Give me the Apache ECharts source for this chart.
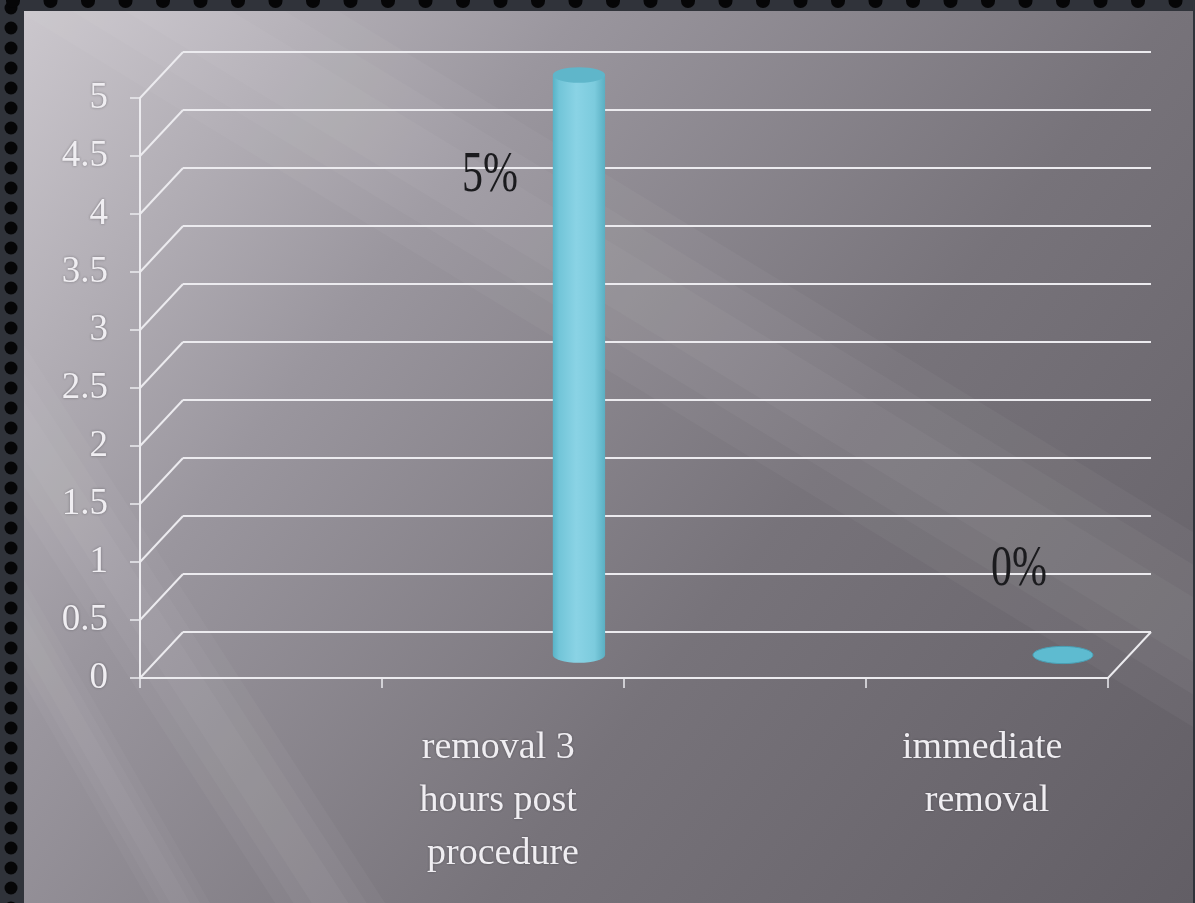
<!DOCTYPE html>
<html>
<head>
<meta charset="utf-8">
<script src="https://cdn.jsdelivr.net/npm/echarts@6/dist/echarts.min.js"></script>
<style>
html,body{margin:0;padding:0;background:#30333a;}
#chart{width:1195px;height:903px;}
</style>
</head>
<body>
<div id="chart"></div>
<script>
// ---- data ----
const categories = ['removal 3 hours post procedure', 'immediate removal'];
const values = [5, 0];
const valueLabels = ['5%', '0%'];
const yTicks = [0, 0.5, 1, 1.5, 2, 2.5, 3, 3.5, 4, 4.5, 5];

// ---- layout / style constants ----
const DX = 43, DY = -46;           // 3D depth offset of back wall
const GRID_COLOR = '#ecebef';
const BAR_SHIFT = 0.225;           // bar offset inside its slot (fraction of band)
const LABEL_OFFSETS = [[-89, 101], [-44, -85]];
const FONT = '"Liberation Serif", "Times New Roman", serif';

// category slots: named categories occupy every second slot
const slots = [];
categories.forEach((c, i) => { slots.push(i === 0 ? '' : ' '); slots.push(c); });
const barData = values.map((v, i) => [2 * i + 1, v, valueLabels[i]]);

function renderWall(params, api) {
  const v = api.value(1);
  const y = api.coord([0, v])[1];
  const cs = params.coordSys;
  const x0 = cs.x, x1 = cs.x + cs.width;
  const st = { stroke: GRID_COLOR, lineWidth: 2 };
  const children = [
    { type: 'line', shape: { x1: x0, y1: y, x2: x0 + DX, y2: y + DY }, style: st },
    { type: 'line', shape: { x1: x0 + DX, y1: y + DY, x2: x1 + DX, y2: y + DY }, style: st }
  ];
  if (v === 0) {
    children.push({ type: 'line', shape: { x1: x1, y1: y, x2: x1 + DX, y2: y + DY }, style: st });
  }
  return { type: 'group', children };
}

function renderCyl(params, api) {
  const idx = api.value(0), v = api.value(1);
  const top = api.coord([idx, v]);
  const base = api.coord([idx, 0]);
  const band = api.size([1, 0])[0];
  const cx = top[0] + band * BAR_SHIFT + DX / 2;
  const ty = top[1] + DY / 2, by = base[1] + DY / 2;
  const rx = band * 0.108, ry = rx * 0.3;
  const children = [];
  const bodyFill = new echarts.graphic.LinearGradient(0, 0, 1, 0, [
    { offset: 0, color: '#58b3c7' },
    { offset: 0.12, color: '#72c5d8' },
    { offset: 0.45, color: '#8ad3e5' },
    { offset: 0.8, color: '#7ccbdd' },
    { offset: 1, color: '#5aafc2' }
  ]);
  if (by - ty > 1) {
    const body = 'M' + (cx - rx) + ' ' + ty + ' L' + (cx - rx) + ' ' + by +
      ' A' + rx + ' ' + ry + ' 0 0 0 ' + (cx + rx) + ' ' + by +
      ' L' + (cx + rx) + ' ' + ty + ' Z';
    children.push({ type: 'path', shape: { pathData: body }, style: { fill: bodyFill } });
    const topE = 'M' + (cx - rx) + ' ' + ty + ' A' + rx + ' ' + ry + ' 0 0 0 ' + (cx + rx) + ' ' + ty +
      ' A' + rx + ' ' + ry + ' 0 0 0 ' + (cx - rx) + ' ' + ty + ' Z';
    children.push({ type: 'path', shape: { pathData: topE }, style: { fill: '#5fb6ca' } });
  } else {
    const r2 = rx * 1.15, ry2 = ry * 1.1;
    const flat = 'M' + (cx - r2) + ' ' + ty + ' A' + r2 + ' ' + ry2 + ' 0 0 0 ' + (cx + r2) + ' ' + ty +
      ' A' + r2 + ' ' + ry2 + ' 0 0 0 ' + (cx - r2) + ' ' + ty + ' Z';
    children.push({ type: 'path', shape: { pathData: flat }, style: { fill: '#5ebbd0', stroke: '#4a9fb4', lineWidth: 1 } });
  }
  const off = LABEL_OFFSETS[params.dataIndex];
  children.push({
    type: 'text', x: cx + off[0], y: ty + off[1], scaleY: 1.35,
    style: { text: api.value(2), x: 0, y: 0, align: 'center', verticalAlign: 'middle',
      font: '42px ' + FONT, fill: '#1b1b1e' }
  });
  return { type: 'group', children };
}

// ---- decorations (frame, background streaks) ----
const W = 1195, H = 903;
const deco = [];
deco.push({
  type: 'rect', z: -20, shape: { x: 24, y: 11, width: 1169, height: 892 },
  style: { fill: new echarts.graphic.LinearGradient(0, 0, 1, 1, [
    { offset: 0, color: '#cbc7cd' },
    { offset: 0.3, color: '#9a969e' },
    { offset: 0.62, color: '#77737a' },
    { offset: 1, color: '#625e65' }
  ]) }
});
// soft diagonal light streaks: each drawn as a few nested translucent bands (horizontal half-widths)
const streaks = [
  { a: [160, 0], b: [1660, 914], w: 320, alpha: 0.035 },
  { a: [-60, 300], b: [330, 903], w: 110, alpha: 0.035 },
  { a: [-40, 520], b: [180, 903], w: 60, alpha: 0.03 }
];
streaks.forEach(s => {
  for (let k = 1; k <= 3; k++) {
    const hw = s.w * k / 6;
    deco.push({
      type: 'polygon', z: -19,
      shape: { points: [[s.a[0] - hw, s.a[1]], [s.a[0] + hw, s.a[1]], [s.b[0] + hw, s.b[1]], [s.b[0] - hw, s.b[1]]] },
      style: { fill: 'rgba(255,255,255,' + s.alpha + ')' }
    });
  }
});
deco.push({ type: 'rect', z: -18, shape: { x: 0, y: 0, width: 24, height: H }, style: { fill: '#30333a' } });
deco.push({ type: 'rect', z: -18, shape: { x: 0, y: 0, width: W, height: 11 }, style: { fill: '#30333a' } });
deco.push({ type: 'rect', z: -18, shape: { x: 1193, y: 0, width: 2, height: H }, style: { fill: '#30333a' } });
for (let y = 8; y < H + 10; y += 20) {
  deco.push({ type: 'circle', z: 50, shape: { cx: 11, cy: y, r: 6.5 }, style: { fill: '#060607' } });
}
for (let x = 13; x < W + 10; x += 37.5) {
  deco.push({ type: 'circle', z: 50, shape: { cx: x, cy: 1, r: 7 }, style: { fill: '#060607' } });
}

const chart = echarts.init(document.getElementById('chart'), null, { renderer: 'canvas' });
chart.setOption({
  backgroundColor: '#30333a',
  animation: false,
  graphic: { elements: deco },
  grid: { left: 140, top: 98, right: 87, bottom: 225, containLabel: false },
  xAxis: {
    type: 'category', data: slots, boundaryGap: true,
    axisLine: { show: true, lineStyle: { color: GRID_COLOR, width: 2 } },
    axisTick: { show: true, interval: 0, length: 10, lineStyle: { color: GRID_COLOR, width: 1.5 } },
    axisLabel: {
      interval: 0, margin: 44, color: '#f0eef2', fontFamily: FONT, fontSize: 38, lineHeight: 53,
      width: 175, overflow: 'break',
      textShadowColor: 'rgba(40,40,44,0.45)', textShadowBlur: 3
    },
    splitLine: { show: false }
  },
  yAxis: {
    type: 'value', min: 0, max: 5, interval: 0.5,
    axisLine: { show: true, lineStyle: { color: GRID_COLOR, width: 2 } },
    axisTick: { show: true, length: 10, lineStyle: { color: GRID_COLOR, width: 1.5 } },
    axisLabel: {
      margin: 32, color: '#f0eef2', fontFamily: FONT, fontSize: 37,
      textShadowColor: 'rgba(40,40,44,0.45)', textShadowBlur: 3
    },
    splitLine: { show: false }
  },
  series: [
    {
      type: 'custom', name: 'walls', z: 1, silent: true,
      data: yTicks.map(v => [0, v]),
      encode: { x: 0, y: 1 },
      renderItem: renderWall
    },
    {
      type: 'custom', name: 'values', z: 5,
      data: barData,
      encode: { x: 0, y: 1 },
      renderItem: renderCyl
    }
  ]
});
</script>
</body>
</html>
